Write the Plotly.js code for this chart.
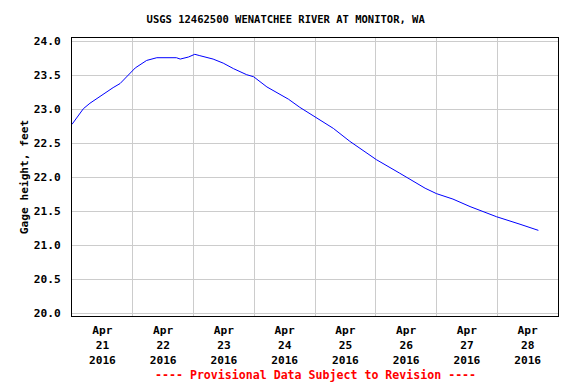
<!DOCTYPE html>
<html>
<head>
<meta charset="utf-8">
<script src="https://cdn.plot.ly/plotly-3.0.1.min.js"></script>
<style>html,body{margin:0;padding:0;background:#fff;}#chart{width:576px;height:384px;}</style>
</head>
<body>
<div id="chart"></div>
<script>
// Gage height readings (feet)
var times = ['2016-04-21 00:00','2016-04-21 01:50','2016-04-21 04:30','2016-04-21 07:05','2016-04-21 11:45',
  '2016-04-21 16:15','2016-04-21 19:00','2016-04-21 22:15','2016-04-22 01:00','2016-04-22 05:30',
  '2016-04-22 09:30','2016-04-22 17:15','2016-04-22 18:45','2016-04-22 22:00','2016-04-23 00:30',
  '2016-04-23 02:30','2016-04-23 07:45','2016-04-23 11:45','2016-04-23 15:45','2016-04-23 21:00',
  '2016-04-23 23:45','2016-04-24 05:00','2016-04-24 13:30','2016-04-24 18:00','2016-04-25 00:00',
  '2016-04-25 07:15','2016-04-25 13:45','2016-04-26 00:15','2016-04-26 09:30','2016-04-26 19:30',
  '2016-04-27 00:00','2016-04-27 06:30','2016-04-27 13:15','2016-04-27 23:45','2016-04-28 09:00',
  '2016-04-28 16:15'];
var gageHeight = [22.78,22.87,23.01,23.09,23.21,
  23.32,23.38,23.51,23.61,23.72,
  23.76,23.76,23.74,23.77,23.81,
  23.79,23.74,23.68,23.60,23.51,
  23.48,23.33,23.15,23.03,22.89,
  22.72,22.53,22.26,22.06,21.84,
  21.76,21.68,21.57,21.42,21.31,
  21.22];

// Axis labels (one per day, centred in each day) and day boundaries (gridlines)
var dayLabelPos = ['2016-04-21 12:00','2016-04-22 12:00','2016-04-23 12:00','2016-04-24 12:00',
  '2016-04-25 12:00','2016-04-26 12:00','2016-04-27 12:00','2016-04-28 12:00'];
var dayLabelText = ['Apr<br>21<br>2016','Apr<br>22<br>2016','Apr<br>23<br>2016','Apr<br>24<br>2016',
  'Apr<br>25<br>2016','Apr<br>26<br>2016','Apr<br>27<br>2016','Apr<br>28<br>2016'];
var dayBounds = ['2016-04-22','2016-04-23','2016-04-24','2016-04-25','2016-04-26','2016-04-27','2016-04-28'];
var yTicks = [20.0,20.5,21.0,21.5,22.0,22.5,23.0,23.5,24.0];

var mono = '"DejaVu Sans Mono", "Liberation Mono", monospace';
var tickFont = {family: mono, size: 11.2, color: '#000', weight: 'bold'};

var trace = {
  x: times, y: gageHeight, type: 'scatter', mode: 'lines',
  line: {color: '#0000ff', width: 1}, hoverinfo: 'skip'
};

var layout = {
  width: 576, height: 384,
  margin: {l: 72, r: 18, t: 38, b: 68, pad: 0},
  paper_bgcolor: '#ffffff', plot_bgcolor: '#ffffff',
  showlegend: false,
  title: {
    text: 'USGS 12462500 WENATCHEE RIVER AT MONITOR, WA',
    font: {family: mono, size: 10.5, color: '#000', weight: 'bold'},
    x: 0.496, xref: 'container', xanchor: 'center',
    y: 1 - 19/384, yref: 'container', yanchor: 'middle'
  },
  xaxis: {
    type: 'date',
    range: ['2016-04-21 00:00', '2016-04-29 00:00'],
    tickmode: 'array', tickvals: dayLabelPos, ticktext: dayLabelText,
    showgrid: false, zeroline: false,
    showline: true, linecolor: '#000', linewidth: 1, mirror: true,
    ticks: '', ticklabelstandoff: 4,
    tickfont: tickFont,
    minor: {tickmode: 'array', tickvals: dayBounds, showgrid: true, gridcolor: '#cccccc', gridwidth: 1, ticks: ''}
  },
  yaxis: {
    range: [19.96, 24.05],
    tickmode: 'array', tickvals: yTicks,
    tickformat: '.1f',
    showgrid: true, gridcolor: '#cccccc', gridwidth: 1, zeroline: false,
    showline: true, linecolor: '#000', linewidth: 1, mirror: true,
    ticks: '', ticklabelstandoff: 8,
    tickfont: tickFont,
    title: {text: 'Gage height, feet', standoff: 2, font: tickFont}
  },
  annotations: [{
    text: '---- Provisional Data Subject to Revision ----',
    xref: 'paper', yref: 'paper', x: 0.5, y: (316 - 375) / 278,
    xanchor: 'center', yanchor: 'middle', showarrow: false,
    font: {family: mono, size: 11.6, color: '#ff0000', weight: 'bold'}
  }]
};

Plotly.newPlot('chart', [trace], layout, {staticPlot: true, displayModeBar: false});
</script>
</body>
</html>
